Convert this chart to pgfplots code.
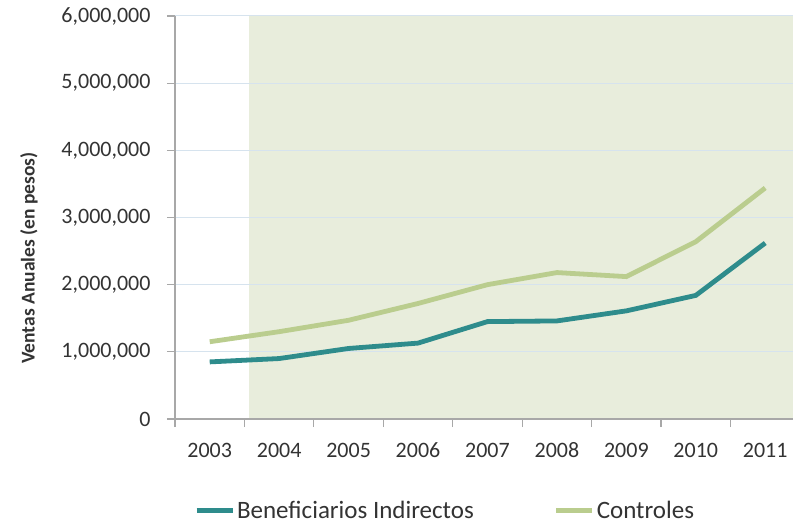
\documentclass[border=0pt]{standalone}
\usepackage{fontspec}
\setmainfont{Carlito}
\usepackage{pgfplots}
\pgfplotsset{compat=1.18}
\definecolor{teal1}{HTML}{2E8C8C}
\definecolor{lgreen}{HTML}{BACD8E}
\definecolor{shade}{HTML}{E8EDDC}
\definecolor{gridc}{HTML}{D6E3EE}
\definecolor{axc}{HTML}{A8A8A8}
\definecolor{txt}{HTML}{333333}
\begin{document}
\begin{tikzpicture}
\begin{axis}[
  set layers,
  at={(0,0)}, anchor=south west,
  scale only axis, width=618bp, height=403bp,
  xmin=-0.5, xmax=8.4, ymin=0, ymax=6000000,
  axis x line=bottom, axis y line=left,
  axis line style={axc, line width=1.2bp, -},
  xtick={0,...,8},
  xticklabels={2003,2004,2005,2006,2007,2008,2009,2010,2011},
  minor xtick={-0.5,0.5,...,7.5},
  major x tick style={draw=none},
  minor tick length=8bp,
  minor x tick style={axc, line width=1.2bp},
  x tick label style={yshift=-12bp, text height=15bp, text depth=0bp},
  ytick={0,1000000,...,6000000},
  yticklabels={0,{1,000,000},{2,000,000},{3,000,000},{4,000,000},{5,000,000},{6,000,000}},
  major tick length=8bp,
  y tick style={axc, line width=1.2bp},
  tick align=outside,
  y tick label style={xshift=-13bp},
  ymajorgrids, major grid style={gridc, line width=1bp},
  tick label style={font=\fontsize{22bp}{25bp}\selectfont, text=txt},
  scaled y ticks=false,
  legend style={draw=none, fill=none, at={(0.437,-0.227)}, anchor=center,
    font=\fontsize{25bp}{28bp}\selectfont, text=txt,
    /tikz/every even column/.append style={column sep=78bp}},
  legend columns=2,
  legend image code/.code={\draw[#1, line width=5bp] (0bp,0bp) -- (36bp,0bp);},
  legend cell align=left,
]
\addplot[on layer=axis background, fill=shade, draw=none, forget plot]
  coordinates {(0.57,0) (0.57,6000000) (8.4,6000000) (8.4,0)};
\addplot[teal1, line width=4.8bp] coordinates {
  (0,850000) (1,900000) (2,1050000) (3,1130000) (4,1450000)
  (5,1460000) (6,1610000) (7,1840000) (8,2620000)};
\addlegendentry{Beneficiarios Indirectos}
\addplot[lgreen, line width=4.8bp] coordinates {
  (0,1150000) (1,1300000) (2,1470000) (3,1720000) (4,2000000)
  (5,2180000) (6,2120000) (7,2640000) (8,3440000)};
\addlegendentry{Controles}
\end{axis}
\node[rotate=90, font=\bfseries\fontsize{19.5bp}{22bp}\selectfont, text=txt] at (-146bp,161bp) {Ventas Anuales (en pesos)};
\pgfresetboundingbox
\path[use as bounding box] (-175bp,-105bp) rectangle (618bp,419bp);
\end{tikzpicture}
\end{document}
